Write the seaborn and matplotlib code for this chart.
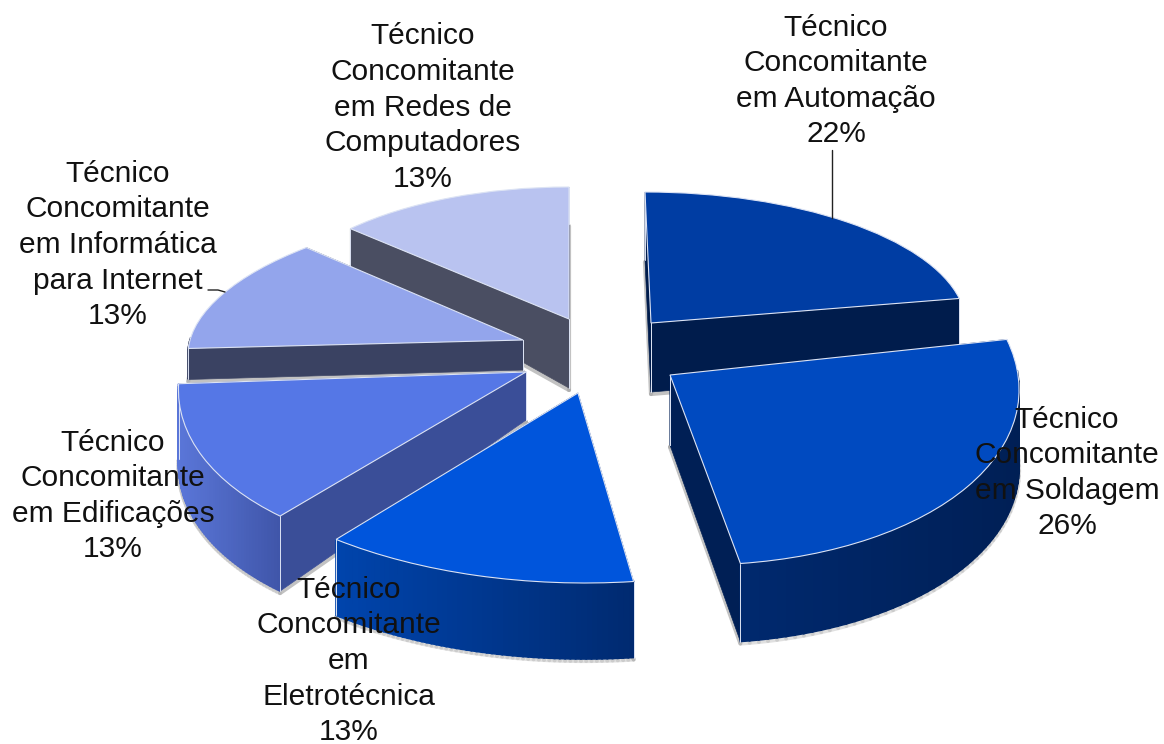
import numpy as np
import matplotlib
matplotlib.use("Agg")
import matplotlib.pyplot as plt
from matplotlib.transforms import Affine2D
import seaborn as sns

labels = ["Técnico\nConcomitante\nem Automação\n22%",
          "Técnico\nConcomitante\nem Soldagem\n26%",
          "Técnico\nConcomitante\nem\nEletrotécnica\n13%",
          "Técnico\nConcomitante\nem Edificações\n13%",
          "Técnico\nConcomitante\nem Informática\npara Internet\n13%",
          "Técnico\nConcomitante\nem Redes de\nComputadores\n13%"]
shares = [22, 26, 13, 13, 13, 13]
top_colors = ["#003DA3", "#004AC0", "#0055DC", "#5577E6", "#93A5EC", "#B9C3F0"]
cut_colors = ["#001C4C", "#001F55", "#002A70", "#3A4E98", "#3A4262", "#4A4E62"]
rim_left = ["#001C4C", "#00296E", "#0044AC", "#5A76D8", "#3A4262", "#4A4E62"]
rim_right = ["#001C4C", "#001F55", "#002A70", "#3F55A8", "#3A4262", "#4A4E62"]

cx = [651, 670, 578, 526, 523, 569]
cy = [323, 375, 393, 372, 340, 319]
rx = [315, 348, 388, 346, 333, 300]
ry = [131, 190, 190, 187, 135, 132]
shear = [-6, -27, -7, 33, 38, 0]
depth_apex = [69, 70, 60, 48, 30, 69]
depth_rim = [68, 78, 76, 75, 31, 37]
label_x = [836, 1067, 349, 113, 118, 423]
label_y = [81, 473, 661, 496, 245, 107.5]
order = [5, 4, 0, 3, 1, 2]

sns.set_theme(style="white")
plt.rcParams["font.family"] = ["Liberation Sans", "DejaVu Sans"]
fig, ax = plt.subplots(figsize=(11.64, 7.44), dpi=100)
fig.subplots_adjust(0, 0, 1, 1)

starts = 90 - 3.6 * np.concatenate([[0], np.cumsum(shares)[:-1]])
EDGE = "#DCE3F4"
SHADOW = "#A8A8A8"


def ellipse_pt(i, deg, d=0):
    a = np.radians(deg)
    return (cx[i] + rx[i] * np.cos(a) + shear[i] * np.sin(a),
            cy[i] - ry[i] * np.sin(a) + d)


for i in order:
    base = order.index(i) * 4
    a0, a1 = starts[i], starts[i] - 3.6 * shares[i]
    for a in (a0, a1):
        x, y = ellipse_pt(i, a)
        xb, yb = ellipse_pt(i, a, depth_rim[i])
        ax.plot([cx[i], xb], [cy[i] + depth_apex[i] + 2, yb + 2], color=SHADOW, lw=3,
                alpha=0.7, zorder=base)
        ax.fill([cx[i], x, xb, cx[i]], [cy[i], y, yb, cy[i] + depth_apex[i]],
                color=cut_colors[i], lw=0.5, zorder=base + 1)
        ax.plot([x, xb], [y, yb], color=EDGE, lw=0.7, zorder=base + 2.5)
        ax.plot([cx[i], cx[i]], [cy[i], cy[i] + depth_apex[i]], color=EDGE, lw=0.7, zorder=base + 1.5)
    steps = np.linspace(a0, a1, 61)
    c0 = np.array(matplotlib.colors.to_rgb(rim_left[i]))
    c1 = np.array(matplotlib.colors.to_rgb(rim_right[i]))
    xs = [ellipse_pt(i, s)[0] for s in steps]
    span = max(max(xs) - min(xs), 1)
    for s0, s1 in zip(steps[:-1], steps[1:]):
        if np.sin(np.radians((s0 + s1) / 2)) > 0.02:
            continue
        p0, p1 = ellipse_pt(i, s0), ellipse_pt(i, s1)
        q0, q1 = ellipse_pt(i, s0, depth_rim[i]), ellipse_pt(i, s1, depth_rim[i])
        ax.plot([q0[0], q1[0]], [q0[1] + 2, q1[1] + 2], color=SHADOW, lw=3, alpha=0.35, zorder=base)
        t = min((min(p0[0], p1[0]) - min(xs)) / span, 1)
        ax.fill([p0[0], p1[0], q1[0], q0[0]], [p0[1], p1[1], q1[1], q0[1]],
                color=c0 + (c1 - c0) * t, lw=1.2, zorder=base + 2)
    wedges, _ = ax.pie([shares[i] / 100], startangle=a1, normalize=False,
                       colors=[top_colors[i]], frame=True,
                       wedgeprops=dict(edgecolor=EDGE, linewidth=0.8))
    w = wedges[0]
    # pie's y axis points up: map it onto the pixel-down data axes, with perspective skew
    matrix = np.array([[rx[i], shear[i], cx[i]], [0, -ry[i], cy[i]], [0, 0, 1]], dtype=float)
    w.set_transform(Affine2D(matrix) + ax.transData)
    w.set_zorder(base + 3)

ax.set_aspect("auto")
ax.set_xlim(0, 1164)
ax.set_ylim(744, 0)
ax.axis("off")

ax.plot([832, 832], [150, 218], color="#222222", lw=1, zorder=30)
ax.plot([208, 218, 225], [290, 290, 292], color="#222222", lw=1, zorder=30)

for t, x, y in zip(labels, label_x, label_y):
    ax.text(x, y, t, ha="center", va="center", fontsize=21.5, color="#111111",
            linespacing=1.345, zorder=40)

fig.savefig("out.png", dpi=100, facecolor="white")
